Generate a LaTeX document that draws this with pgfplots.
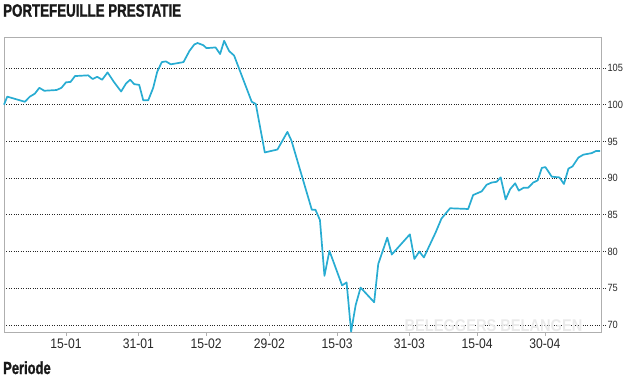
\documentclass[border=0pt]{standalone}
\usepackage{fontspec}
\setmainfont{Liberation Sans}
\newfontfamily\titlefont[FakeStretch=0.74, FakeBold=1.2]{Liberation Sans Bold}
\newfontfamily\tickfont[FakeStretch=0.88]{Liberation Sans}
\newfontfamily\wmfont[FakeStretch=0.86]{Liberation Sans Bold}
\usepackage{pgfplots}
\pgfplotsset{compat=1.18}
\definecolor{linec}{RGB}{40,172,210}
\definecolor{boxc}{RGB}{175,175,175}
\definecolor{wmc}{RGB}{234,234,234}
\definecolor{labc}{RGB}{40,40,40}
\definecolor{titc}{RGB}{25,25,25}

\pgfplotstableread{
d v
1.28 100.0
2.0 101.1
5.9 100.4
7.0 101.1
8.1 101.5
9.1 102.3
10.2 101.9
12.9 102.0
14.0 102.3
15.0 103.05
16.0 103.1
17.0 103.9
19.9 104.0
20.9 103.5
21.9 103.8
23.0 103.4
24.2 104.4
25.6 103.1
27.2 101.8
28.3 102.9
29.2 103.4
30.1 102.8
31.2 102.7
32.1 100.6
33.2 100.6
34.3 102.3
35.2 104.5
36.2 105.8
37.1 105.9
38.2 105.5
41.0 105.8
42.3 107.3
43.4 108.2
44.1 108.4
45.4 108.1
46.1 107.7
48.1 107.8
49.1 106.9
50.0 108.7
51.1 107.3
52.2 106.7
56.1 100.4
57.0 100.1
59.0 93.5
61.8 93.9
64.0 96.3
64.9 95.1
69.4 85.7
70.2 85.7
71.2 84.3
72.2 76.7
73.3 80.1
76.1 75.4
77.1 75.8
78.1 69.1
79.1 72.7
80.2 75.1
83.2 73.1
84.1 78.3
85.1 80.1
86.1 81.9
87.1 79.6
91.1 82.35
92.1 79.0
93.2 80.0
94.2 79.2
96.8 82.6
98.1 84.5
100.0 85.9
104.0 85.8
105.1 87.7
107.0 88.2
108.1 89.1
109.2 89.4
110.3 89.5
111.2 90.1
112.3 87.1
113.3 88.5
114.4 89.3
115.2 88.3
116.3 88.7
117.3 88.7
118.4 89.4
119.4 89.7
120.3 91.4
121.1 91.5
122.5 90.2
124.2 90.1
125.2 89.2
126.2 91.3
127.1 91.6
128.4 92.8
129.5 93.2
131.3 93.4
132.3 93.7
133.2 93.7
}\perf

\begin{document}
\begin{tikzpicture}
\useasboundingbox (0,0) rectangle (634bp,378bp);
\node[anchor=base west, inner sep=0, text=titc] at (3bp,361.3bp) {\titlefont\fontsize{18bp}{20bp}\selectfont PORTEFEUILLE PRESTATIE};
\node[anchor=base west, inner sep=0, text=titc] at (3bp,4bp) {\titlefont\fontsize{17.5bp}{20bp}\selectfont Periode};
\begin{axis}[
  at={(4bp,46bp)}, anchor=south west,
  scale only axis, width=597bp, height=295bp,
  xmin=1.28, xmax=133.4, ymin=69.05, ymax=109.22,
  axis line style={boxc, line width=0.9bp},
  ytick={70,75,...,105},
  ytick pos=right, yticklabel pos=right,
  xtick pos=bottom,
  ymajorgrids,
  grid style={dotted, line width=0.8bp, black!85},
  xtick={15,31,46,60,75,91,106,121},
  xticklabels={15-01,31-01,15-02,29-02,15-03,31-03,15-04,30-04},
  tick align=outside,
  major tick length=4bp,
  xtick style={boxc, line width=0.8bp},
  ytick style={dotted, line width=0.8bp, black!85},
  /pgf/number format/assume math mode=true,
  yticklabel style={font=\tickfont\fontsize{10.5bp}{12bp}\selectfont, text=labc, xshift=-1bp},
  xticklabel style={font=\tickfont\fontsize{13.8bp}{15bp}\selectfont, text=labc, yshift=1bp},
  clip=false,
]
\node[text=wmc, anchor=base] at (axis cs:109.6,69.18) {\wmfont\fontsize{17bp}{19bp}\selectfont BELEGGERS BELANGEN};
\addplot[linec, line width=1.7bp, line join=round] table[x=d, y=v] {\perf};
\end{axis}
\end{tikzpicture}
\end{document}
